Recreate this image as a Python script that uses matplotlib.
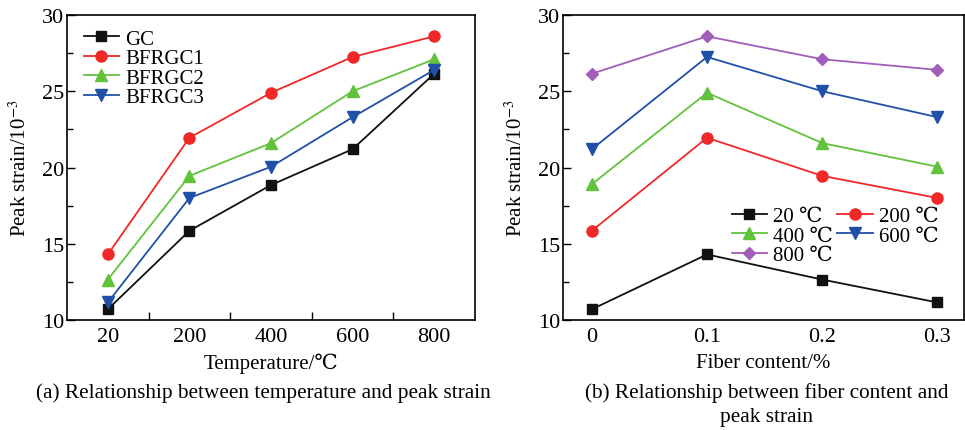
import matplotlib
matplotlib.use("Agg")
import matplotlib.pyplot as plt
from matplotlib.ticker import MultipleLocator, FixedLocator

plt.rcParams['font.family'] = ['Liberation Serif', 'DejaVu Serif']
plt.rcParams['mathtext.fontset'] = 'stix'

# ---- data ----
temps = ['20', '200', '400', '600', '800']
gc = [10.7, 15.85, 18.85, 21.2, 26.15]
bfrgc1 = [14.3, 21.95, 24.9, 27.25, 28.6]
bfrgc2 = [12.65, 19.45, 21.6, 25.0, 27.1]
bfrgc3 = [11.15, 18.0, 20.05, 23.3, 26.4]

fiber = [0, 0.1, 0.2, 0.3]
fiber_labels = ['0', '0.1', '0.2', '0.3']
t20 = [10.7, 14.3, 12.65, 11.15]
t200 = [15.85, 21.95, 19.45, 18.0]
t400 = [18.9, 24.9, 21.6, 20.05]
t600 = [21.2, 27.25, 25.0, 23.3]
t800 = [26.15, 28.6, 27.1, 26.4]

black = '#111111'
red = '#f02828'
green = '#62c23c'
blue = '#2050a8'
purple = '#a25cba'

W, H = 965, 431
fig = plt.figure(figsize=(W / 100, H / 100), dpi=100)
TICK = 16

def style(ax):
    ax.tick_params(which='both', direction='in', top=False, right=False, labelsize=TICK)
    ax.tick_params(axis='y', which='major', length=6, width=1, pad=2)
    ax.tick_params(axis='y', which='minor', length=4, width=1)
    for s in ax.spines.values():
        s.set_linewidth(1.2)
    ax.set_ylim(10, 30)
    ax.yaxis.set_major_locator(MultipleLocator(5))
    ax.yaxis.set_minor_locator(MultipleLocator(2.5))
    ax.set_ylabel(r'Peak strain/10$^{-3}$', fontsize=15, labelpad=8)

# ---- left panel ----
ax1 = fig.add_axes([67 / W, 110 / H, 408 / W, 305 / H])
x = list(range(len(temps)))
ms = 7
ax1.plot(x, gc, '-s', color=black, ms=ms, lw=1.3, label='GC')
ax1.plot(x, bfrgc1, '-o', color=red, ms=ms + 1, lw=1.3, label='BFRGC1')
ax1.plot(x, bfrgc2, '-^', color=green, ms=ms + 1, lw=1.3, label='BFRGC2')
ax1.plot(x, bfrgc3, '-v', color=blue, ms=ms + 1, lw=1.3, label='BFRGC3')
ax1.set_xlim(-0.5, 4.5)
ax1.set_xticks(x)
ax1.set_xticklabels(temps)
ax1.xaxis.set_minor_locator(FixedLocator([0.5, 1.5, 2.5, 3.5]))
style(ax1)
ax1.tick_params(axis='x', which='major', length=0, pad=5)
ax1.tick_params(axis='x', which='minor', length=6, width=1)
ax1.set_xlabel('Temperature/℃', fontsize=15, labelpad=5)
ax1.legend(loc='upper left', bbox_to_anchor=(0.01, 0.995), frameon=False, fontsize=15,
           handlelength=1.7, handletextpad=0.3, labelspacing=0.0, borderaxespad=0.2)

# ---- right panel ----
ax2 = fig.add_axes([563 / W, 110 / H, 401 / W, 305 / H])
l20, = ax2.plot(fiber, t20, '-s', color=black, ms=ms, lw=1.3, label='20 ℃')
l200, = ax2.plot(fiber, t200, '-o', color=red, ms=ms + 1, lw=1.3, label='200 ℃')
l400, = ax2.plot(fiber, t400, '-^', color=green, ms=ms + 1, lw=1.3, label='400 ℃')
l600, = ax2.plot(fiber, t600, '-v', color=blue, ms=ms + 1, lw=1.3, label='600 ℃')
l800, = ax2.plot(fiber, t800, '-D', color=purple, ms=ms - 1, lw=1.3, label='800 ℃')
ax2.set_xlim(-0.025, 0.323)
ax2.set_xticks(fiber)
ax2.set_xticklabels(fiber_labels)
style(ax2)
ax2.tick_params(axis='x', which='both', length=0, pad=5)
ax2.set_xlabel('Fiber content/%', fontsize=15, labelpad=5)
hs = [l20, l400, l800, l200, l600]
ax2.legend(hs, [h.get_label() for h in hs], loc='upper left', bbox_to_anchor=(0.40, 0.40),
           frameon=False, fontsize=15, ncol=2,
           handlelength=1.7, handletextpad=0.3, labelspacing=0.0, columnspacing=0.2,
           borderaxespad=0.0)

# ---- captions ----
fig.text(263 / W, 1 - 393 / H, '(a) Relationship between temperature and peak strain',
         ha='center', va='center', fontsize=15.3)
fig.text(767 / W, 1 - 393 / H, '(b) Relationship between fiber content and',
         ha='center', va='center', fontsize=15.3)
fig.text(767 / W, 1 - 418 / H, 'peak strain', ha='center', va='center', fontsize=15.3)

fig.savefig('out.png', dpi=100)
